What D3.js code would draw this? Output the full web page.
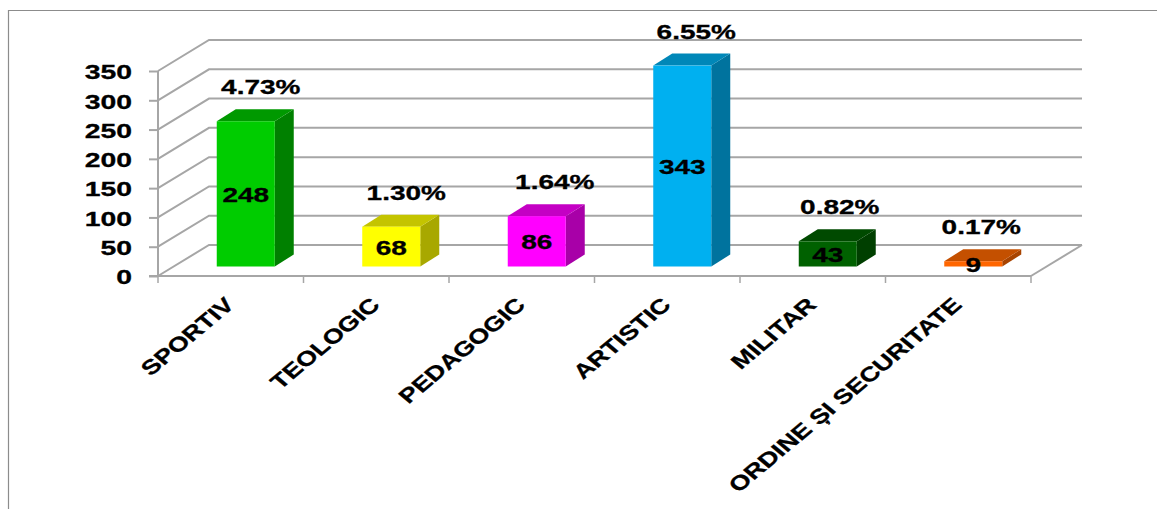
<!DOCTYPE html>
<html>
<head>
<meta charset="utf-8">
<script src="https://cdn.jsdelivr.net/npm/d3@7"></script>
<style>
  html, body { margin: 0; padding: 0; background: #fff; }
  svg { display: block; }
  text { font-family: "Liberation Sans", Arial, sans-serif; font-weight: bold; fill: #000; stroke: #000; stroke-width: 0.3; }
  .wall { stroke: #a6a6a6; stroke-width: 2; fill: none; }
</style>
</head>
<body>
<div id="chart"></div>
<script>
/* DATA */
const categories = ["SPORTIV", "TEOLOGIC", "PEDAGOGIC", "ARTISTIC", "MILITAR", "ORDINE ȘI SECURITATE"];
const values = [248, 68, 86, 343, 43, 9];
const percents = ["4.73%", "1.30%", "1.64%", "6.55%", "0.82%", "0.17%"];
const yTicks = [0, 50, 100, 150, 200, 250, 300, 350];
const frontColors = ["#00cc00", "#ffff00", "#ff00ff", "#00b0f0", "#006100", "#ff6600"];
const topColors = ["#009900", "#c4c400", "#c400c4", "#0087b8", "#004a00", "#c45000"];
const sideColors = ["#008000", "#a8a800", "#a800a8", "#00739e", "#003f00", "#a84400"];

/* CONSTANTS */
const width = 1157,
  height = 509,
  left = 158,
  right = 1031,
  baseY = 276,
  topY = 71,
  wallDx = 51, // how far the floor goes back, in pixels
  wallDy = -31,
  barDx = 19, // depth of a single bar
  barDy = -12,
  barWidth = 58;

// the percent labels were placed by hand in the original
const pctNudge = [1, 1, 4, 0, -2, -6];

const svg = d3.select("#chart").append("svg")
  .attr("width", width)
  .attr("height", height);

// frame of the original picture (only top and left edges show)
svg.append("path")
  .attr("d", "M8.5,509V10.5H1157")
  .attr("fill", "none")
  .attr("stroke", "#8c8c8c")
  .attr("stroke-width", 1.2);

const xScale = d3.scaleBand()
  .domain(categories)
  .range([left, right]);

const yScale = d3.scaleLinear()
  .domain([0, 350])
  .range([baseY, topY]);

// gridlines on the side wall and the back wall
svg.append("g").selectAll(".grid")
  .data(yTicks)
  .join("path")
  .attr("class", "wall grid")
  .attr("d", d => `M${left},${yScale(d)}l${wallDx},${wallDy}H${right + wallDx}`);

// floor right edge
svg.append("path")
  .attr("class", "wall")
  .attr("stroke-width", 1.5)
  .attr("d", `M${right},${baseY}l${wallDx},${wallDy}`);

// y axis
const yAxis = d3.axisLeft(yScale)
  .tickValues(yTicks)
  .tickSize(9);

const yG = svg.append("g")
  .attr("transform", `translate(${left},0)`)
  .call(yAxis);
yG.select(".domain").remove();
yG.selectAll("line").attr("stroke", "#a6a6a6").attr("stroke-width", 2);
yG.append("line")
  .attr("y1", yScale(350)).attr("y2", yScale(0))
  .attr("stroke", "#a6a6a6").attr("stroke-width", 2);
yG.selectAll("text")
  .attr("x", 0)
  .attr("font-size", 21)
  .attr("font-family", null)
  .attr("fill", "#000")
  .attr("transform", "translate(-26,1) scale(1.35,1)");

// x axis, tick marks between categories
const xG = svg.append("g");
xG.append("line")
  .attr("x1", left - 9).attr("x2", right)
  .attr("y1", baseY).attr("y2", baseY)
  .attr("stroke", "#a6a6a6").attr("stroke-width", 2);
xG.selectAll(".tick-x")
  .data(categories.map(d => xScale(d)).concat(right))
  .join("line")
  .attr("class", "tick-x")
  .attr("x1", d => d).attr("x2", d => d)
  .attr("y1", baseY).attr("y2", baseY + 7)
  .attr("stroke", "#a6a6a6").attr("stroke-width", 1.5);

// bars stand in the middle of the floor depth
const floorDx = (wallDx - barDx) / 2;
const floorDy = (wallDy - barDy) / 2;
const barX = d => xScale(d) + xScale.bandwidth() / 2 + floorDx - barWidth / 2 - 1;
const barBase = yScale(0) + floorDy;
const barTop = v => barBase - (yScale(0) - yScale(v));

const bars = svg.selectAll(".bar")
  .data(categories.map((c, i) => ({ c, i, v: values[i], p: percents[i] })))
  .join("g")
  .attr("class", "bar");

bars.append("path") // side
  .attr("fill", d => sideColors[d.i])
  .attr("d", d => {
    const x = barX(d.c) + barWidth;
    return `M${x},${barBase}V${barTop(d.v)}l${barDx},${barDy}V${barBase + barDy}Z`;
  });
bars.append("path") // top
  .attr("fill", d => topColors[d.i])
  .attr("d", d => {
    const x = barX(d.c);
    return `M${x},${barTop(d.v)}l${barDx},${barDy}h${barWidth}l${-barDx},${-barDy}Z`;
  });
bars.append("rect") // front
  .attr("fill", d => frontColors[d.i])
  .attr("x", d => barX(d.c))
  .attr("y", d => barTop(d.v))
  .attr("width", barWidth)
  .attr("height", d => barBase - barTop(d.v));

// value inside the bar
bars.append("text")
  .text(d => d.v)
  .attr("text-anchor", "middle")
  .attr("font-size", 20)
  .attr("transform", d => {
    const x = barX(d.c) + barWidth / 2;
    const y = (barTop(d.v) + barBase) / 2 + 8;
    return `translate(${x},${y}) scale(1.4,1)`;
  });

// share above the bar
bars.append("text")
  .text(d => d.p)
  .attr("text-anchor", "middle")
  .attr("font-size", 20)
  .attr("transform", d => {
    const x = barX(d.c) + barWidth / 2 + 14 + pctNudge[d.i];
    const y = barTop(d.v) - 27;
    return `translate(${x},${y}) scale(1.4,1)`;
  });

// rotated category labels, the picture was stretched sideways after rotating
svg.selectAll(".cat")
  .data(categories)
  .join("text")
  .attr("class", "cat")
  .text(d => d)
  .attr("text-anchor", "end")
  .attr("font-size", 20)
  .attr("transform", d => `translate(${xScale(d) + xScale.bandwidth() / 2 + 5},306) scale(1.2,1) rotate(-45) scale(1.14,1)`);
</script>
</body>
</html>
